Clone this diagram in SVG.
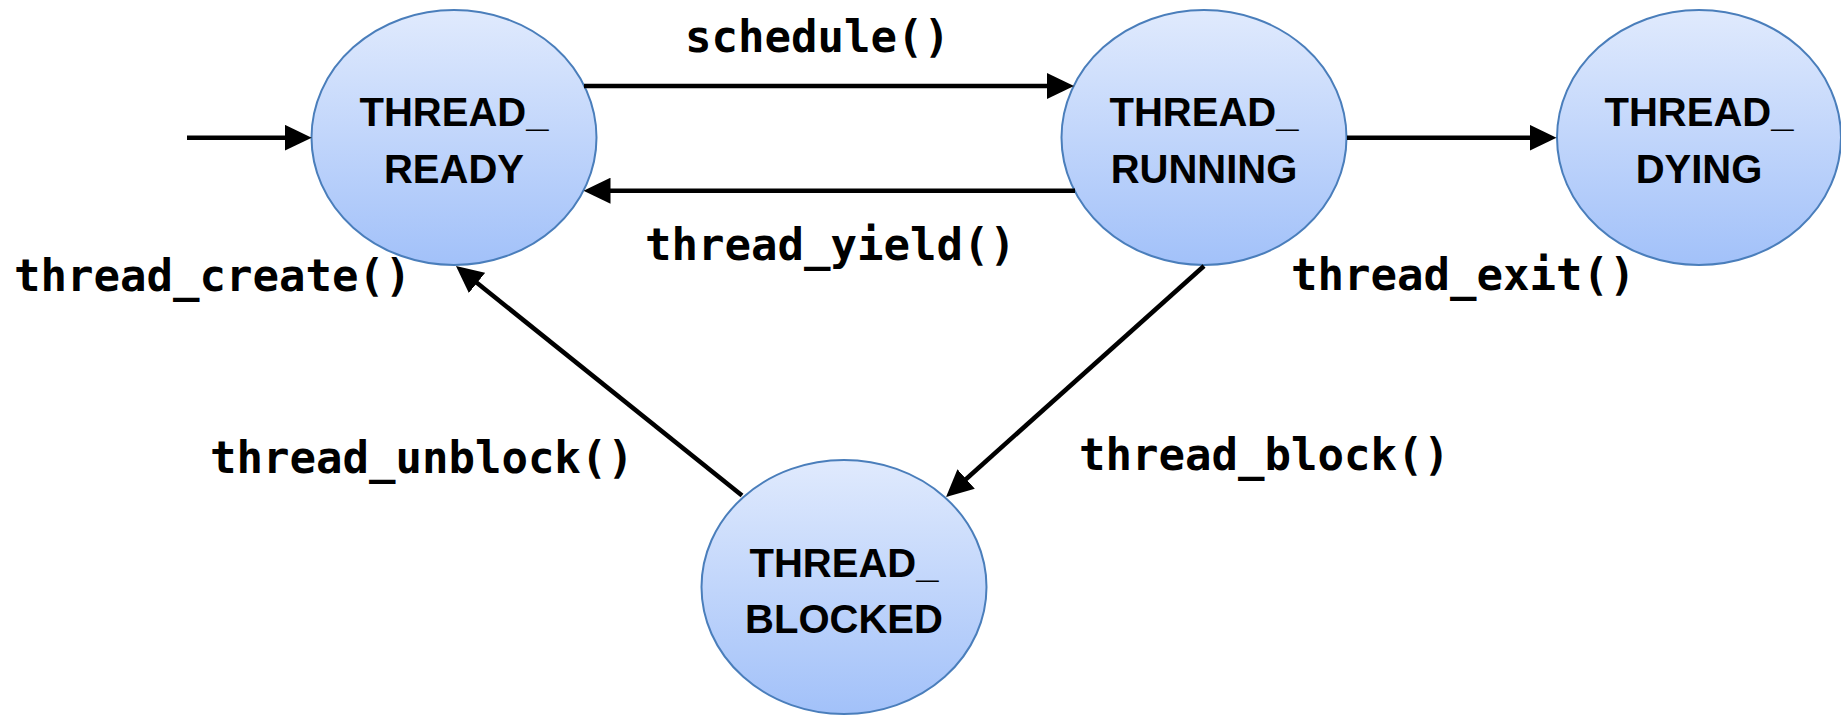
<svg xmlns="http://www.w3.org/2000/svg" width="1841" height="715" viewBox="0 0 1841 715">
<style>
.node ellipse{fill:url(#g);stroke:#4a7ebb;stroke-width:2}
.node text{font-family:"Liberation Sans",Arial,sans-serif;font-weight:bold;font-size:40px;text-anchor:middle;fill:#000}
.edge line{stroke:#000;stroke-width:4.5;marker-end:url(#ah)}
.lbl{font-family:"DejaVu Sans Mono","Liberation Mono",monospace;font-weight:bold;font-size:44px;fill:#000}
</style>
<defs>
<linearGradient id="g" x1="0" y1="0" x2="0" y2="1">
<stop offset="0" stop-color="#e0eafd"/>
<stop offset="1" stop-color="#a2c1f9"/>
</linearGradient>
<marker id="ah" viewBox="0 0 27 26" refX="19" refY="13" markerWidth="27" markerHeight="26" markerUnits="userSpaceOnUse" orient="auto">
<path d="M0,0 L27,13 L0,26 z" fill="#000"/>
</marker>
</defs>
<g id="node-ready" class="node">
<ellipse cx="454" cy="137.5" rx="142.5" ry="127.5"/>
<text x="454" y="126">THREAD_</text>
<text x="454" y="183">READY</text>
</g>
<g id="node-running" class="node">
<ellipse cx="1204" cy="137.5" rx="142.5" ry="127.5"/>
<text x="1204" y="126">THREAD_</text>
<text x="1204" y="183">RUNNING</text>
</g>
<g id="node-dying" class="node">
<ellipse cx="1699" cy="137.5" rx="142" ry="127.5"/>
<text x="1699" y="126">THREAD_</text>
<text x="1699" y="183">DYING</text>
</g>
<g id="node-blocked" class="node">
<ellipse cx="844" cy="587" rx="142.5" ry="127"/>
<text x="844" y="577">THREAD_</text>
<text x="844" y="633">BLOCKED</text>
</g>
<g id="connectors" class="edge">
<line x1="187" y1="137.7" x2="303.7" y2="137.7"/>
<line x1="584" y1="86" x2="1066" y2="86"/>
<line x1="1075" y1="190.7" x2="591.5" y2="190.7"/>
<line x1="1347" y1="137.7" x2="1548.5" y2="137.7"/>
<line x1="1204" y1="266" x2="952" y2="491.7"/>
<line x1="742" y1="495.5" x2="462.2" y2="271"/>
</g>
<g id="labels">
<text class="lbl" x="685" y="52">schedule()</text>
<text class="lbl" x="645" y="260">thread_yield()</text>
<text class="lbl" x="14" y="291">thread_create()</text>
<text class="lbl" x="1291" y="290">thread_exit()</text>
<text class="lbl" x="1079" y="470">thread_block()</text>
<text class="lbl" x="210" y="473">thread_unblock()</text>
</g>
</svg>
